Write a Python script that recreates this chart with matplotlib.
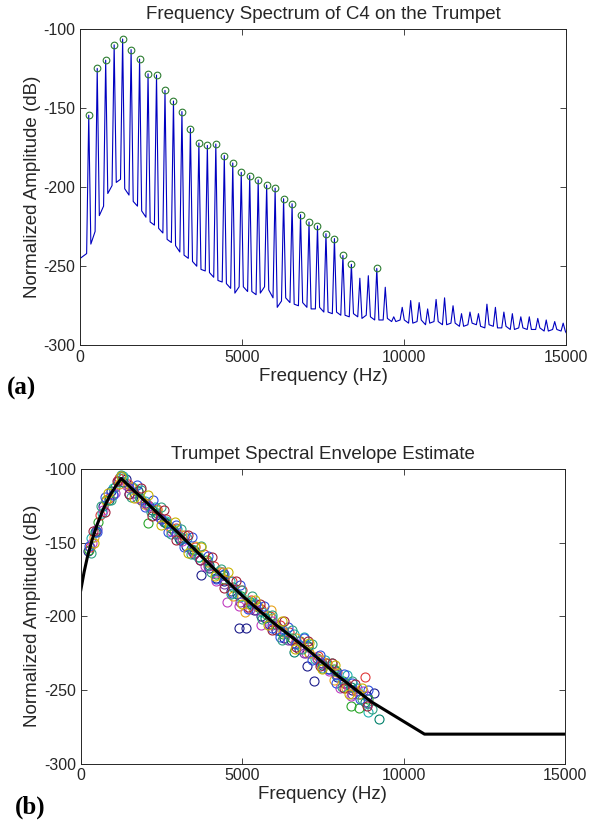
import matplotlib
matplotlib.use('Agg')
import numpy as np
import matplotlib.pyplot as plt

plt.rcParams['font.family'] = ['Liberation Sans', 'DejaVu Sans']
plt.rcParams['axes.unicode_minus'] = False

# ---- panel (a): spectrum of C4 ----
fund_hz = 261.6
# peak level of harmonics 1..57 (dB)
peak_db = [-154.5, -124.9, -119.7, -110.0, -106.3, -113.0, -119.0, -128.3, -129.1, -138.8,
           -145.5, -152.2, -162.9, -172.1, -173.6, -172.7, -180.0, -184.7, -190.6, -192.7,
           -195.4, -198.7, -200.6, -207.3, -210.5, -217.4, -222.0, -224.5, -229.4, -232.5,
           -243.2, -248.8, -257.6, -256.0, -251.4, -263.3, -282.0, -276.0, -271.7, -273.0,
           -277.0, -271.0, -270.0, -275.0, -280.0, -279.0, -280.0, -274.0, -276.0, -279.0,
           -280.0, -282.0, -282.0, -283.0, -284.0, -285.0, -286.0]
# noise floor just after harmonic n (n = 0..57)
floor_db = [-245, -236, -218, -204, -197, -201, -209, -215, -222, -226,
            -233, -237, -243, -247, -252, -254, -259, -261, -267, -263,
            -266, -267, -265, -276, -270, -274, -273, -277, -276, -279,
            -279, -281, -280, -283, -282, -284, -283, -285, -284, -286,
            -284, -286, -285, -287, -286, -288, -286, -288, -287, -289,
            -288, -290, -289, -290, -289, -291, -290, -291]
# noise floor just before harmonic n+1 (n = 0..57)
floor_b_db = [-242, -228, -212, -199, -195, -205, -212, -219, -224, -229,
              -235, -241, -245, -250, -253, -257, -260, -264, -263, -266,
              -268, -263, -270, -272, -273, -275, -276, -277, -279, -280,
              -281, -282, -282, -281, -284, -284, -285, -284, -286, -285,
              -287, -285, -287, -286, -288, -287, -287, -289, -288, -289,
              -290, -289, -290, -290, -291, -290, -291, -292]
# harmonics marked as detected peaks
marked = list(range(1, 33)) + [35]

# ---- panel (b): harmonic peaks of several notes + envelope ----
notes_f0 = [233.1, 261.6, 293.7, 329.6, 349.2, 392.0, 440.0, 493.9,
            246.9, 311.1, 370.0, 415.3]
notes_db = [
    [-156, -142, -125, -115, -108, -107, -116, -121, -125, -131, -136, -140, -147, -152, -158,
     -172, -167, -174, -176, -183, -208, -208, -196, -200, -205, -209, -215, -216, -222, -234,
     -244, -232, -236, -241, -245, -250, -253, -254, -252],
    [-155, -136, -121, -112, -106, -112, -120, -137, -130, -136, -142, -147, -154, -160, -162,
     -171, -175, -180, -186, -190, -194, -199, -205, -212, -215, -217, -225, -228, -232, -236,
     -244, -261, -262, -256],
    [-153, -131, -120, -106, -110, -115, -124, -127, -134, -140, -145, -153, -158, -166, -170,
     -176, -182, -189, -195, -200, -206, -211, -217, -221, -227, -232, -238, -246, -251, -241],
    [-147, -130, -113, -105, -113, -122, -126, -135, -141, -147, -160, -163, -169, -176, -187,
     -190, -197, -201, -209, -212, -214, -229, -230, -240, -240, -249, -265],
    [-150, -128, -116, -111, -120, -125, -133, -142, -149, -157, -166, -176, -190, -193, -195,
     -206, -203, -211, -218, -225, -229, -237, -249, -254, -251],
    [-146, -122, -110, -112, -124, -128, -139, -145, -152, -163, -170, -186, -197, -193, -196,
     -211, -215, -225, -230, -243, -249, -253],
    [-143, -121, -109, -115, -128, -137, -148, -155, -165, -172, -185, -192, -201, -210, -224,
     -220, -233, -237, -248, -258, -270],
    [-141, -117, -113, -123, -134, -144, -156, -166, -178, -190, -196, -206, -216, -225, -232,
     -239, -253, -259],
    [-152, -143, -119, -118, -105, -117, -111, -126, -121, -134, -143, -138, -153, -146, -162,
     -159, -175, -171, -184, -179, -195, -192, -193, -208, -214, -207, -219, -215, -230, -226,
     -236, -245, -239, -245, -256, -250],
    [-157, -125, -121, -104, -119, -114, -129, -126, -144, -141, -158, -152, -170, -168, -185,
     -182, -186, -202, -199, -216, -209, -222, -219, -235, -232, -248, -244, -256, -263],
    [-142, -129, -108, -117, -113, -132, -128, -148, -145, -162, -160, -181, -176, -194, -192,
     -209, -203, -221, -217, -234, -232, -249, -246, -261],
    [-150, -116, -105, -120, -118, -138, -136, -157, -153, -173, -170, -192, -189, -206, -203,
     -222, -218, -236, -233, -253, -249],
]
note_colors = ['#1c1c8a', '#2aa52a', '#e03a3a', '#1fb0b0', '#c03cc0', '#e8a21c', '#00806a',
               '#7a3aa8', '#3050e0', '#30a080', '#a0203a', '#c8b400']

env_hz = [0, 100, 200, 350, 500, 700, 900, 1100, 1250, 2000, 3000, 4000, 5000,
          6000, 7000, 8000, 9000, 10650, 15000]
env_db = [-182, -170, -160, -148, -138, -127, -118, -111, -106.5, -122, -143, -165, -186,
          -205, -222, -241, -258, -280, -280]

# build the spectrum polyline: floor, narrow spike at each harmonic, floor
half_w = 65
spec_f = [0.0]
spec_db = [floor_db[0]]
for n, pk in enumerate(peak_db, start=1):
    fc = n * fund_hz
    spec_f += [fc - half_w, fc, fc + half_w]
    spec_db += [floor_b_db[n - 1], pk, floor_db[n]]
spec_f.append(15000)
spec_db.append(floor_b_db[-1])

fig = plt.figure(figsize=(5.99, 8.30), dpi=100)
ax1 = fig.add_axes([0.134, 0.584, 0.811, 0.381])
ax2 = fig.add_axes([0.135, 0.080, 0.808, 0.355])

ax1.plot(spec_f, spec_db, color='#0000c0', lw=0.8)
ax1.plot([n * fund_hz for n in marked], [peak_db[n - 1] for n in marked], 'o',
         mfc='none', mec='#2e7d32', ms=4.8, mew=0.8)
ax1.set_title('Frequency Spectrum of C4 on the Trumpet', fontsize=13.5, pad=7,
              color='#262626')

for f0, dbs, c in zip(notes_f0, notes_db, note_colors):
    ax2.plot([f0 * (k + 1) for k in range(len(dbs))], dbs, 'o', mfc='none', mec=c,
             ms=6.5, mew=0.8)
ax2.plot(env_hz, env_db, color='black', lw=2.2)
ax2.set_title('Trumpet Spectral Envelope Estimate', fontsize=13.5, pad=7,
              color='#262626')

for ax in (ax1, ax2):
    ax.set_xlim(0, 15000)
    ax.set_ylim(-300, -100)
    ax.set_xticks([0, 5000, 10000, 15000])
    ax.set_yticks([-300, -250, -200, -150, -100])
    ax.tick_params(direction='in', top=True, right=True, labelsize=11.5,
                   colors='#262626', length=4, width=0.6)
    for sp in ax.spines.values():
        sp.set_color('#262626')
        sp.set_linewidth(0.7)
    ax.set_xlabel('Frequency (Hz)', fontsize=13.5, color='#262626', labelpad=2)
    ax.set_ylabel('Normalized Amplitude (dB)', fontsize=13.5, color='#262626', labelpad=2)

fig.text(0.012, 0.532, '(a)', fontsize=18, fontweight='bold', family='Liberation Serif',
         va='center')
fig.text(0.025, 0.027, '(b)', fontsize=18, fontweight='bold', family='Liberation Serif',
         va='center')

fig.savefig('out.png', dpi=100)
